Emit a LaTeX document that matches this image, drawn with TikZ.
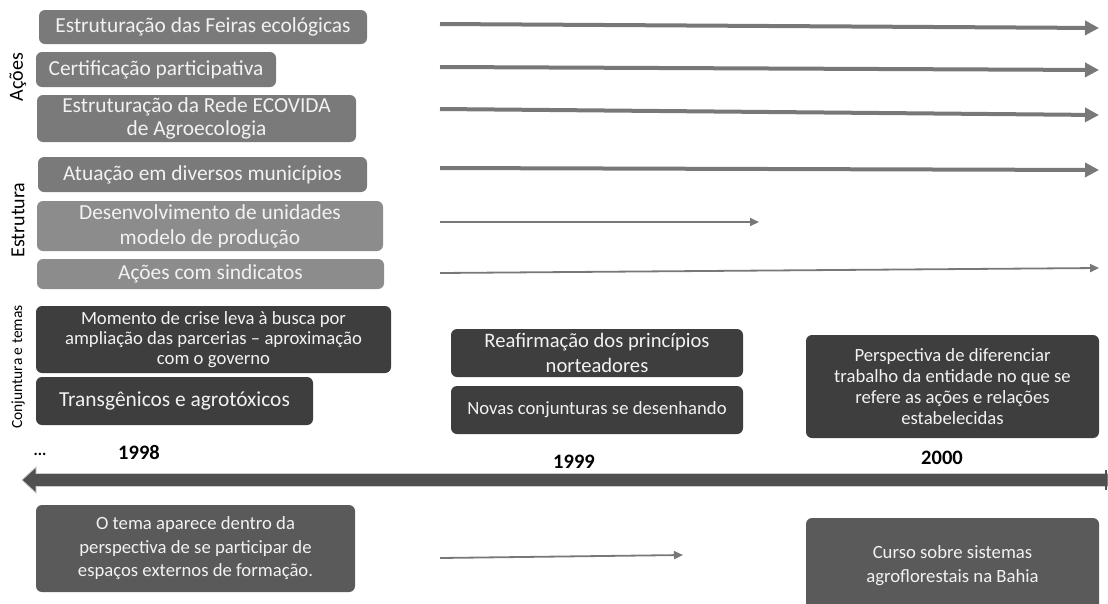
\documentclass[tikz,border=0pt]{standalone}
\usepackage{fontspec}
\setmainfont{Carlito}
\usetikzlibrary{arrows.meta}
\definecolor{boxA}{HTML}{7A7A7A}
\definecolor{boxB}{HTML}{8C8C8C}
\definecolor{boxC}{HTML}{3E3E3E}
\definecolor{boxD}{HTML}{5A5A5A}
\definecolor{arrowgray}{HTML}{787878}
\definecolor{txt}{HTML}{F2F2F2}
\definecolor{lineC}{HTML}{505050}
\begin{document}
\begin{tikzpicture}[x=1pt,y=-1pt,
  box/.style={rounded corners=6pt, inner sep=0pt, align=center, text=txt},
  fbig/.style={font=\fontsize{21.4}{23}\selectfont},
  fsmall/.style={font=\fontsize{18.7}{21}\selectfont},
  thick arrow/.style={draw=arrowgray, line width=4pt, -{Triangle[length=14pt,width=14pt]}},
  thin arrow/.style={draw=arrowgray, line width=1.8pt, -{Triangle[length=9pt,width=8pt]}},
  year/.style={font=\fontsize{20.5}{22}\selectfont\bfseries, text=black, inner sep=0pt},
  side/.style={rotate=90, text=black, inner sep=0pt}]
\useasboundingbox (0,0) rectangle (1108,603);
\fill[white] (0,0) rectangle (1108,603);

% side labels
\node[side, font=\fontsize{20}{22}\selectfont] (lacoes) at (18,77) {Ações};
\node[side, font=\fontsize{20}{22}\selectfont] (lestr) at (18,220) {Estrutura};
\node[side, font=\fontsize{15.5}{17}\selectfont] (lconj) at (18,367) {Conjuntura e temas};

% Ações boxes
\node[box, fbig, fill=boxA, minimum width=328pt, minimum height=34pt] (b1) at (203,27) {Estruturação das Feiras ecológicas};
\node[box, fbig, fill=boxA, minimum width=240pt, minimum height=35pt] (b2) at (156,69.5) {Certificação participativa};
\node[box, fbig, fill=boxA, minimum width=319pt, minimum height=47pt] (b3) at (196.5,118.5) {Estruturação da Rede ECOVIDA\\de Agroecologia};
% Estrutura boxes
\node[box, fbig, fill=boxA, minimum width=329pt, minimum height=35pt] (b4) at (202.5,174.5) {Atuação em diversos municípios};
\node[box, fill=boxB, minimum width=346pt, minimum height=50pt, font=\fontsize{21.4}{25}\selectfont] (b5) at (210,226) {Desenvolvimento de unidades\\modelo de produção};
\node[box, fbig, fill=boxB, minimum width=347pt, minimum height=30pt] (b6) at (210.5,274) {Ações com sindicatos};
% Conjuntura boxes
\node[box, fill=boxC, minimum width=355pt, minimum height=67pt, font=\fontsize{18.7}{20}\selectfont] (b7) at (213.5,339.5) {Momento de crise leva à busca por\\ampliação das parcerias – aproximação\\com o governo};
\node[box, fill=boxC, minimum width=277pt, minimum height=48pt, font=\fontsize{21.4}{23}\selectfont] (b8) at (174.5,401) {Transgênicos e agrotóxicos};
\node[box, fill=boxC, minimum width=292pt, minimum height=48pt, font=\fontsize{20.6}{25}\selectfont] (b9) at (597,353) {Reafirmação dos princípios\\norteadores};
\node[box, fill=boxC, minimum width=292pt, minimum height=48pt, font=\fontsize{18.7}{20}\selectfont] (b10) at (597,410) {Novas conjunturas se desenhando};
\node[box, fsmall, fill=boxC, minimum width=293pt, minimum height=103pt] (b11) at (952.5,386.5) {Perspectiva de diferenciar\\trabalho da entidade no que se\\refere as ações e relações\\estabelecidas};

% years
\node[year, font=\fontsize{16}{18}\selectfont\bfseries] (dots) at (40,454) {...};
\node[year] (y98) at (139,452) {1998};
\node[year] (y99) at (574,462) {1999};
\node[year] (y00) at (942,458) {2000};

% timeline
\filldraw[fill=lineC, draw=gray!40, line width=0.8pt]
  (1108,473.5) -- (36,473.5) -- (36,467) -- (22,480) -- (36,493) -- (36,486.5) -- (1108,486.5) -- cycle;
\draw[lineC, line width=1.5pt] (1106,470) -- (1106,490);

% bottom boxes
\node[box, fill=boxD, minimum width=319pt, minimum height=87pt, font=\fontsize{18.7}{23.5}\selectfont] (b12) at (195.5,548.5) {O tema aparece dentro da\\perspectiva de se participar de\\espaços externos de formação.};
\node[box, fill=boxD, minimum width=293pt, minimum height=95pt, font=\fontsize{18.7}{24}\selectfont] (b13) at (952.5,565.5) {Curso sobre sistemas\\agroflorestais na Bahia};

% arrows
\coordinate (a1s) at (440,24); \coordinate (a1e) at (1099,28);
\coordinate (a2s) at (440,67); \coordinate (a2e) at (1099,70);
\coordinate (a3s) at (440,109); \coordinate (a3e) at (1099,115);
\coordinate (a4s) at (440,168); \coordinate (a4e) at (1099,170);
\coordinate (a5s) at (440,222); \coordinate (a5e) at (759,222);
\coordinate (a6s) at (440,273); \coordinate (a6e) at (1099,268);
\coordinate (a7s) at (440,558); \coordinate (a7e) at (683,555);
\draw[thick arrow] (a1s) -- (a1e);
\draw[thick arrow] (a2s) -- (a2e);
\draw[thick arrow] (a3s) -- (a3e);
\draw[thick arrow] (a4s) -- (a4e);
\draw[thin arrow] (a5s) -- (a5e);
\draw[thin arrow] (a6s) -- (a6e);
\draw[thin arrow] (a7s) -- (a7e);
\end{tikzpicture}
\end{document}
